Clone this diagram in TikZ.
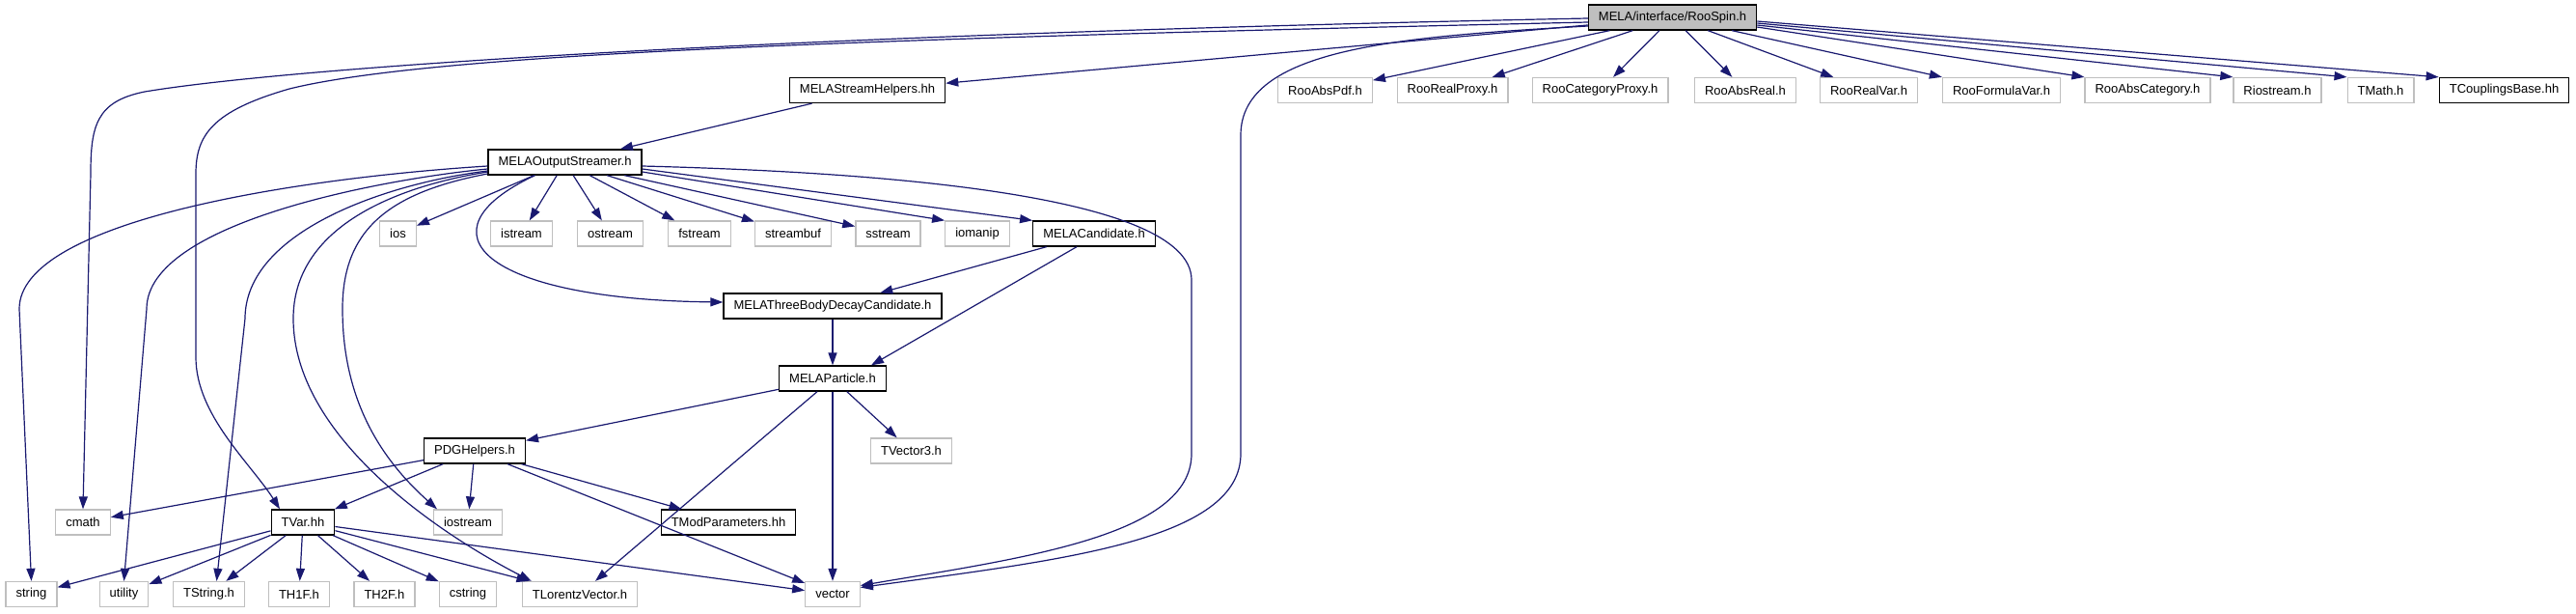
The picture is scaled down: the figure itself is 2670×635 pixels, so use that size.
\documentclass[tikz,border=0pt]{standalone}
\usepackage{fontspec}
\setmainfont{Liberation Sans}
\usetikzlibrary{arrows.meta}
\definecolor{edgeblue}{HTML}{191970}
\definecolor{extgray}{HTML}{BFBFBF}

\begin{document}
\begin{tikzpicture}[
  x=1pt, y=-1pt,
  box/.style={rectangle, line width=1.3pt, minimum height=26pt, inner xsep=10.5pt, inner ysep=0pt, font=\fontsize{13}{15}\selectfont},
  doc/.style={box, draw=black, fill=white},
  ext/.style={box, draw=extgray, fill=white},
  current/.style={box, draw=black, fill=extgray},
  edge/.style={-{Triangle[length=13pt, width=9pt]}, line width=1.2pt, draw=edgeblue}
]
\path[use as bounding box, fill=white] (0,0) rectangle (2670,635);

\node[current] (root) at (1733.5,18) {MELA/interface/RooSpin.h};
\node[doc] (helpers) at (899,93.5) {MELAStreamHelpers.hh};
\node[ext] (absPdf) at (1373.5,93.5) {RooAbsPdf.h};
\node[ext] (realProxy) at (1505.5,93.5) {RooRealProxy.h};
\node[ext] (catProxy) at (1658.5,93.5) {RooCategoryProxy.h};
\node[ext] (absReal) at (1809,93.5) {RooAbsReal.h};
\node[ext] (realVar) at (1937,93.5) {RooRealVar.h};
\node[ext] (formulaVar) at (2074.5,93.5) {RooFormulaVar.h};
\node[ext] (absCat) at (2226,93.5) {RooAbsCategory.h};
\node[ext] (riostream) at (2360.5,93.5) {Riostream.h};
\node[ext] (tmath) at (2467.5,93.5) {TMath.h};
\node[doc] (couplings) at (2595.5,93.5) {TCouplingsBase.hh};

\node[doc] (streamer) at (585.5,168) {MELAOutputStreamer.h};
\node[ext] (ios) at (412.5,242) {ios};
\node[ext] (istream) at (540.5,242) {istream};
\node[ext] (ostream) at (632.5,242) {ostream};
\node[ext] (fstream) at (725,242) {fstream};
\node[ext] (streambuf) at (822,242) {streambuf};
\node[ext] (sstream) at (920.5,242) {sstream};
\node[ext] (iomanip) at (1013,242) {iomanip};
\node[doc] (candidate) at (1134,242) {MELACandidate.h};
\node[doc] (threeBody) at (863,317) {MELAThreeBodyDecayCandidate.h};
\node[doc] (particle) at (863,392) {MELAParticle.h};
\node[doc] (pdg) at (492,467) {PDGHelpers.h};
\node[ext] (tvec3) at (944.5,467) {TVector3.h};

\node[ext] (cmath) at (86,541) {cmath};
\node[doc] (tvar) at (314,541) {TVar.hh};
\node[ext] (iostream) at (485,541) {iostream};
\node[doc] (tmod) at (755,541) {TModParameters.hh};

\node[ext] (string) at (32.5,615.5) {string};
\node[ext] (utility) at (128.5,615.5) {utility};
\node[ext] (tstring) at (216.5,615.5) {TString.h};
\node[ext] (th1f) at (310,615.5) {TH1F.h};
\node[ext] (th2f) at (398.5,615.5) {TH2F.h};
\node[ext] (cstring) at (485,615.5) {cstring};
\node[ext] (tlv) at (601,615.5) {TLorentzVector.h};
\node[ext] (vector) at (863,615.5) {vector};

% RooSpin.h
\draw[edge] ([yshift=-1pt]root.west) .. controls (800,36) and (300,70) .. (150,95) .. controls (100,105) and (94,130) .. (94,180) -- (cmath.north);
\draw[edge] ([yshift=-5pt]root.west) .. controls (900,40) and (450,55) .. (300,92) .. controls (220,115) and (203,140) .. (203,180) -- (203,370) .. controls (203,430) and (260,480) .. ([xshift=-24pt]tvar.north);
\draw[edge] (root) -- (helpers);
\draw[edge] ([yshift=-9pt]root.west) .. controls (1450,38) and (1286,50) .. (1286,140) -- (1286,470) .. controls (1286,560) and (1100,580) .. ([yshift=7pt]vector.east);
\draw[edge] (root) -- (absPdf);
\draw[edge] (root) -- (realProxy);
\draw[edge] (root) -- (catProxy);
\draw[edge] (root) -- (absReal);
\draw[edge] (root) -- (realVar);
\draw[edge] (root) -- (formulaVar);
\draw[edge] ([yshift=-10pt]root.east) -- (absCat.north west);
\draw[edge] ([yshift=-8pt]root.east) -- (riostream.north west);
\draw[edge] ([yshift=-6pt]root.east) -- (tmath.north west);
\draw[edge] ([yshift=-4pt]root.east) -- (couplings.north west);
\draw[edge] (helpers) -- (streamer);

% MELAOutputStreamer.h
\draw[edge] ([yshift=-4pt]streamer.west) .. controls (300,185) and (20,230) .. (20,320) -- (string.north);
\draw[edge] ([yshift=-7pt]streamer.west) .. controls (400,185) and (152,230) .. (152,320) -- (utility.north);
\draw[edge] ([yshift=-9pt]streamer.west) .. controls (400,190) and (254,240) .. (254,330) -- ([xshift=8pt]tstring.north);
\draw[edge] ([yshift=-10pt]streamer.west) .. controls (400,195) and (304,240) .. (304,330) .. controls (304,450) and (450,550) .. ([xshift=10pt]tlv.north west);
\draw[edge] ([yshift=-12pt]streamer.west) .. controls (400,200) and (355,240) .. (355,320) .. controls (355,420) and (400,480) .. ([xshift=-32pt]iostream.north);
\draw[edge] (streamer) -- (ios);
\draw[edge] (streamer) -- (istream);
\draw[edge] (streamer) -- (ostream);
\draw[edge] (streamer) -- (fstream);
\draw[edge] (streamer) -- (streambuf);
\draw[edge] (streamer) -- (sstream);
\draw[edge] ([yshift=-10pt]streamer.east) -- (iomanip.north west);
\draw[edge] ([yshift=-7pt]streamer.east) -- (candidate.north west);
\draw[edge] ([xshift=-31pt]streamer.south) .. controls (430,240) and (500,310) .. ([yshift=4pt]threeBody.west);
\draw[edge] ([yshift=-4pt]streamer.east) .. controls (900,178) and (1235,200) .. (1235,290) -- (1235,470) .. controls (1235,555) and (1060,578) .. ([yshift=9pt]vector.east);

% MELACandidate.h, MELAParticle.h
\draw[edge] (candidate) -- (threeBody);
\draw[edge] ([xshift=-18pt]candidate.south) -- ([xshift=40pt]particle.north);
\draw[edge] (threeBody) -- (particle);
\draw[edge] (particle) -- (pdg);
\draw[edge] (particle) -- (tlv);
\draw[edge] (particle) -- (vector);
\draw[edge] (particle) -- (tvec3);

% PDGHelpers.h
\draw[edge] (pdg) -- (cmath);
\draw[edge] (pdg) -- (tvar);
\draw[edge] (pdg) -- (iostream);
\draw[edge] (pdg) -- (tmod);
\draw[edge] (pdg) -- (vector);

% TVar.hh
\draw[edge] (tvar) -- (string);
\draw[edge] (tvar) -- (utility);
\draw[edge] (tvar) -- (tstring);
\draw[edge] (tvar) -- (th1f);
\draw[edge] (tvar) -- (th2f);
\draw[edge] (tvar) -- (cstring);
\draw[edge] (tvar) -- (tlv);
\draw[edge] (tvar) -- (vector);
\end{tikzpicture}
\end{document}
